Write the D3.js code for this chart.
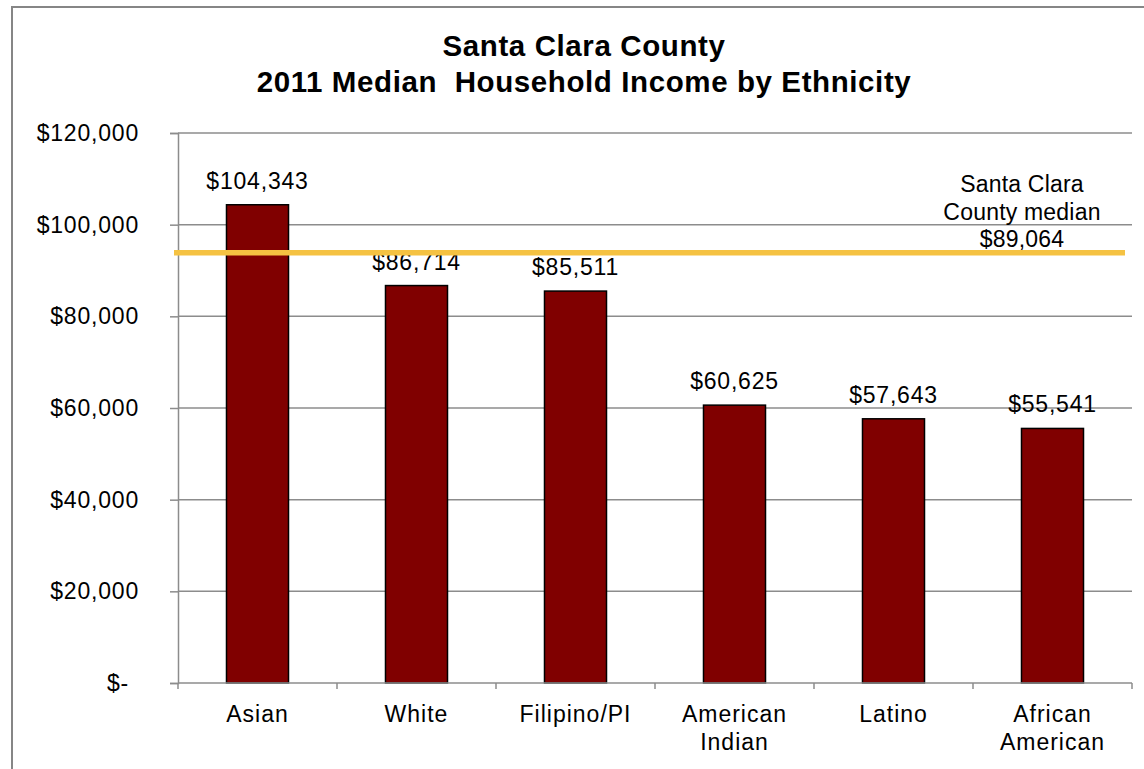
<!DOCTYPE html>
<html>
<head>
<meta charset="utf-8">
<script src="https://cdn.jsdelivr.net/npm/d3@7"></script>
<style>
  body { margin: 0; background: #fff; }
  svg { display: block; font-family: "Liberation Sans", Arial, sans-serif; }
</style>
</head>
<body>
<svg width="1144" height="769"></svg>
<script>
// data
var categories = ["Asian", "White", "Filipino/PI", "American Indian", "Latino", "African American"];
var catLines = [["Asian"], ["White"], ["Filipino/PI"], ["American", "Indian"], ["Latino"], ["African", "American"]];
var incomes = [104343, 86714, 85511, 60625, 57643, 55541];
var yTicks = [0, 20000, 40000, 60000, 80000, 100000, 120000];
var medianValue = 89064;       // printed value
var medianLineLevel = 93900;   // where the line sits in the picture
var medianLabel = ["Santa Clara", "County median"];
var titleLines = ["Santa Clara County", "2011 Median  Household Income by Ethnicity"];

var svg = d3.select("svg");
var plotLeft = 178, plotRight = 1132, plotTop = 133, plotBottom = 683;

// outer frame
svg.append("rect")
    .attr("x", 12).attr("y", 7)
    .attr("width", 1150).attr("height", 780)
    .attr("fill", "none")
    .attr("stroke", "#868686")
    .attr("stroke-width", 2);

// title
svg.selectAll(".title").data(titleLines).enter()
    .append("text")
    .attr("class", "title")
    .attr("x", 584)
    .attr("y", function(d, i) { return 56 + i * 36; })
    .attr("text-anchor", "middle")
    .attr("font-size", "29.5px")
    .attr("font-weight", "bold")
    .style("letter-spacing", "0.6px")
    .style("white-space", "pre")
    .text(function(d) { return d; });

var x = d3.scaleBand(categories, [plotLeft, plotRight]).padding(0);
var xBar = d3.scaleBand(categories, [plotLeft, plotRight]).paddingInner(0.61).paddingOuter(0.305);
var y = d3.scaleLinear([0, 120000], [plotBottom, plotTop]);

var fmt = d3.format(",");
function money(v) { return v === 0 ? "$-" : "$" + fmt(v); }

// gridlines
svg.append("g").selectAll("line").data(yTicks.slice(1)).enter()
    .append("line")
    .attr("x1", plotLeft).attr("x2", plotRight)
    .attr("y1", function(d) { return y(d); })
    .attr("y2", function(d) { return y(d); })
    .attr("stroke", "#8c8c8c")
    .attr("stroke-width", 1.5);

// y axis
var yaxis = svg.append("g")
    .attr("transform", "translate(" + plotLeft + ",0)")
    .call(d3.axisLeft(y).tickValues(yTicks).tickSize(8).tickPadding(31).tickFormat(money));
yaxis.select(".domain").attr("stroke", "#8c8c8c").attr("stroke-width", 1.5);
yaxis.selectAll(".tick line").attr("stroke", "#8c8c8c").attr("stroke-width", 1.5);
yaxis.selectAll(".tick text")
    .attr("font-size", "23px")
    .attr("font-family", "Liberation Sans, Arial, sans-serif")
    .attr("fill", "#000")
    .style("letter-spacing", "0.8px")
    .attr("dx", function(d) { return d === 0 ? -10 : 0; });

// bars
svg.append("g").selectAll("rect").data(incomes).enter()
    .append("rect")
    .attr("x", function(d, i) { return xBar(categories[i]); })
    .attr("width", xBar.bandwidth())
    .attr("y", function(d) { return y(d); })
    .attr("height", function(d) { return plotBottom - y(d); })
    .attr("fill", "#800000")
    .attr("stroke", "#000")
    .attr("stroke-width", 1.5);

// x axis line and ticks at category boundaries
svg.append("line")
    .attr("x1", plotLeft).attr("x2", plotRight)
    .attr("y1", plotBottom).attr("y2", plotBottom)
    .attr("stroke", "#8c8c8c").attr("stroke-width", 1.5);
var edges = categories.map(function(c) { return x(c); }).concat([x(categories[5]) + x.bandwidth()]);
svg.append("g").selectAll("line").data(edges).enter()
    .append("line")
    .attr("x1", function(d) { return d; }).attr("x2", function(d) { return d; })
    .attr("y1", plotBottom).attr("y2", plotBottom + 6)
    .attr("stroke", "#8c8c8c").attr("stroke-width", 1.5);

// x labels
var xl = svg.append("g").selectAll("text").data(catLines).enter()
    .append("text")
    .attr("text-anchor", "middle")
    .attr("font-size", "23px")
    .style("letter-spacing", "1px")
    .attr("transform", function(d, i) { return "translate(" + (x(categories[i]) + x.bandwidth() / 2) + ",722)"; });
xl.selectAll("tspan").data(function(d) { return d; }).enter()
    .append("tspan")
    .attr("x", 0)
    .attr("y", function(d, i) { return i * 28; })
    .text(function(d) { return d; });

// value labels
svg.append("g").selectAll("text").data(incomes).enter()
    .append("text")
    .attr("x", function(d, i) { return x(categories[i]) + x.bandwidth() / 2; })
    .attr("y", function(d) { return y(d) - 16; })
    .attr("text-anchor", "middle")
    .attr("font-size", "23px")
    .style("letter-spacing", "0.8px")
    .text(function(d) { return money(d); });

// county median line
svg.append("line")
    .attr("x1", plotLeft - 4).attr("x2", plotRight - 7)
    .attr("y1", y(medianLineLevel)).attr("y2", y(medianLineLevel))
    .attr("stroke", "#f5c242")
    .attr("stroke-width", 5.5);

svg.append("g").selectAll("text").data(medianLabel.concat([money(medianValue)])).enter()
    .append("text")
    .attr("x", 1022)
    .attr("y", function(d, i) { return 192 + i * 27.5; })
    .attr("text-anchor", "middle")
    .attr("font-size", "23px")
    .style("letter-spacing", "0.2px")
    .text(function(d) { return d; });
</script>
</body>
</html>
